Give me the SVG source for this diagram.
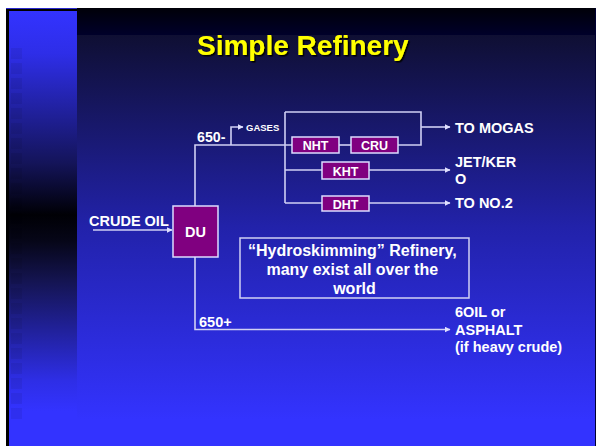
<svg xmlns="http://www.w3.org/2000/svg" width="596" height="446" viewBox="0 0 596 446">
  <defs>
    <linearGradient id="mainBg" x1="0" y1="35" x2="0" y2="420" gradientUnits="userSpaceOnUse">
      <stop offset="0" stop-color="#0f0f33"/>
      <stop offset="0.5" stop-color="#2222aa"/>
      <stop offset="1" stop-color="#3333ff"/>
    </linearGradient>
    <linearGradient id="topBand" x1="0" y1="8" x2="0" y2="35" gradientUnits="userSpaceOnUse">
      <stop offset="0" stop-color="#000008"/>
      <stop offset="1" stop-color="#00002a"/>
    </linearGradient>
    <linearGradient id="leftBg" x1="0" y1="10" x2="0" y2="446" gradientUnits="userSpaceOnUse">
      <stop offset="0" stop-color="#3333ff"/>
      <stop offset="0.1" stop-color="#2e2ee8"/>
      <stop offset="0.35" stop-color="#14145a"/>
      <stop offset="0.47" stop-color="#000005"/>
      <stop offset="0.53" stop-color="#060618"/>
      <stop offset="0.62" stop-color="#141450"/>
      <stop offset="0.85" stop-color="#2e2ee6"/>
      <stop offset="0.92" stop-color="#3333ff"/>
    </linearGradient>
    <filter id="shadow" x="-5%" y="-20%" width="110%" height="140%">
      <feDropShadow dx="1.5" dy="1.5" stdDeviation="0.3" flood-color="#000000" flood-opacity="1"/>
    </filter>
    <marker id="arr" viewBox="0 0 6 6" refX="5.5" refY="3" markerWidth="6" markerHeight="6" markerUnits="userSpaceOnUse" orient="auto">
      <path d="M0,0 L6,3 L0,6 z" fill="#e0e0ff"/>
    </marker>
    <style>
      .ln { fill: none; stroke: #d0d0f4; stroke-width: 1.6; }
      .box { fill: #800080; stroke: #dcdcff; stroke-width: 1.5; }
      .t { font-family: "Liberation Sans", Arial, sans-serif; font-weight: bold; fill: #ffffff; }
      .note { fill: none; stroke: #d0d0f4; stroke-width: 1.5; }
    </style>
  </defs>

  <!-- background -->
  <rect x="0" y="0" width="596" height="446" fill="#ffffff"/>
  <rect x="6" y="8" width="590" height="438" fill="#000000"/>
  <rect x="77" y="8" width="518" height="438" fill="url(#mainBg)"/>
  <rect x="77" y="8" width="518" height="27" fill="url(#topBand)"/>
  <rect x="595" y="8" width="1" height="438" fill="#000033"/>
  <rect x="9" y="11" width="68" height="435" fill="url(#leftBg)"/>
  <rect x="6" y="8" width="71" height="1" fill="#2a2acc"/>
  <g id="left-squares" fill="#000000" opacity="0.06">
    <rect x="11" y="48" width="11" height="11"/>
    <rect x="11" y="63" width="11" height="11"/>
    <rect x="11" y="78" width="11" height="11"/>
    <rect x="11" y="93" width="11" height="11"/>
    <rect x="11" y="108" width="11" height="11"/>
    <rect x="11" y="123" width="11" height="11"/>
    <rect x="11" y="138" width="11" height="11"/>
    <rect x="11" y="153" width="11" height="11"/>
    <rect x="11" y="168" width="11" height="11"/>
    <rect x="11" y="183" width="11" height="11"/>
    <rect x="11" y="198" width="11" height="11"/>
    <rect x="11" y="213" width="11" height="11"/>
    <rect x="11" y="228" width="11" height="11"/>
    <rect x="11" y="243" width="11" height="11"/>
    <rect x="11" y="258" width="11" height="11"/>
    <rect x="11" y="273" width="11" height="11"/>
    <rect x="11" y="288" width="11" height="11"/>
    <rect x="11" y="303" width="11" height="11"/>
    <rect x="11" y="318" width="11" height="11"/>
    <rect x="11" y="333" width="11" height="11"/>
    <rect x="11" y="348" width="11" height="11"/>
    <rect x="11" y="363" width="11" height="11"/>
    <rect x="11" y="378" width="11" height="11"/>
    <rect x="11" y="393" width="11" height="11"/>
    <rect x="11" y="408" width="11" height="11"/>
  </g>

  <!-- title -->
  <g id="title">
    <text x="197" y="55" font-family="Liberation Sans, Arial, sans-serif" font-weight="bold" font-size="28" fill="#ffff00" filter="url(#shadow)">Simple Refinery</text>
  </g>

  <!-- connectors -->
  <g id="connectors">
    <line class="ln" x1="93" y1="230" x2="172" y2="230" marker-end="url(#arr)"/>
    <polyline class="ln" points="195,206 195,145 292,145"/>
    <polyline class="ln" points="231,145 231,127 243,127" marker-end="url(#arr)"/>
    <line class="ln" x1="285" y1="112" x2="285" y2="203"/>
    <line class="ln" x1="339" y1="145" x2="351" y2="145"/>
    <polyline class="ln" points="398,145 421,145 421,112 285,112"/>
    <line class="ln" x1="421" y1="127" x2="450" y2="127" marker-end="url(#arr)"/>
    <line class="ln" x1="285" y1="170" x2="322" y2="170"/>
    <line class="ln" x1="369" y1="170" x2="450" y2="170" marker-end="url(#arr)"/>
    <line class="ln" x1="285" y1="203" x2="322" y2="203"/>
    <line class="ln" x1="369" y1="203" x2="450" y2="203" marker-end="url(#arr)"/>
    <polyline class="ln" points="195,257 195,329.5 450,329.5" marker-end="url(#arr)"/>
  </g>

  <!-- nodes -->
  <g id="node-DU">
    <rect class="box" x="173" y="206" width="45" height="51"/>
    <text class="t" x="195.5" y="237" font-size="14.5" text-anchor="middle">DU</text>
  </g>
  <g id="node-NHT">
    <rect class="box" x="292" y="137" width="47" height="16"/>
    <text class="t" x="315.5" y="150" font-size="12.5" text-anchor="middle">NHT</text>
  </g>
  <g id="node-CRU">
    <rect class="box" x="351" y="137" width="47" height="16"/>
    <text class="t" x="374.5" y="150" font-size="12.5" text-anchor="middle">CRU</text>
  </g>
  <g id="node-KHT">
    <rect class="box" x="322" y="162" width="47" height="17"/>
    <text class="t" x="345.5" y="175.5" font-size="12.5" text-anchor="middle">KHT</text>
  </g>
  <g id="node-DHT">
    <rect class="box" x="322" y="196" width="47" height="15"/>
    <text class="t" x="345.5" y="208.5" font-size="12.5" text-anchor="middle">DHT</text>
  </g>

  <g id="note">
    <rect class="note" x="240" y="238" width="229" height="60"/>
    <text class="t" font-size="16" text-anchor="middle">
      <tspan x="354.5" y="256">“Hydroskimming” Refinery,</tspan>
      <tspan x="354.5" y="275">many exist all over the</tspan>
      <tspan x="354.5" y="294">world</tspan>
    </text>
  </g>

  <!-- labels -->
  <g id="labels">
    <text class="t" x="89" y="226" font-size="14.5">CRUDE OIL</text>
    <text class="t" x="197" y="142" font-size="14.2">650-</text>
    <text class="t" x="246" y="131" font-size="9.5">GASES</text>
    <text class="t" x="199" y="327" font-size="14.5">650+</text>
    <text class="t" x="455" y="133" font-size="14.5">TO MOGAS</text>
    <text class="t" x="455" y="167" font-size="14.5">JET/KER</text>
    <text class="t" x="455" y="184" font-size="14.5">O</text>
    <text class="t" x="455" y="208" font-size="14.5">TO NO.2</text>
    <text class="t" x="455" y="317" font-size="14.5">6OIL or</text>
    <text class="t" x="455" y="335" font-size="14.5">ASPHALT</text>
    <text class="t" x="455" y="352" font-size="14.5">(if heavy crude)</text>
  </g>
</svg>
